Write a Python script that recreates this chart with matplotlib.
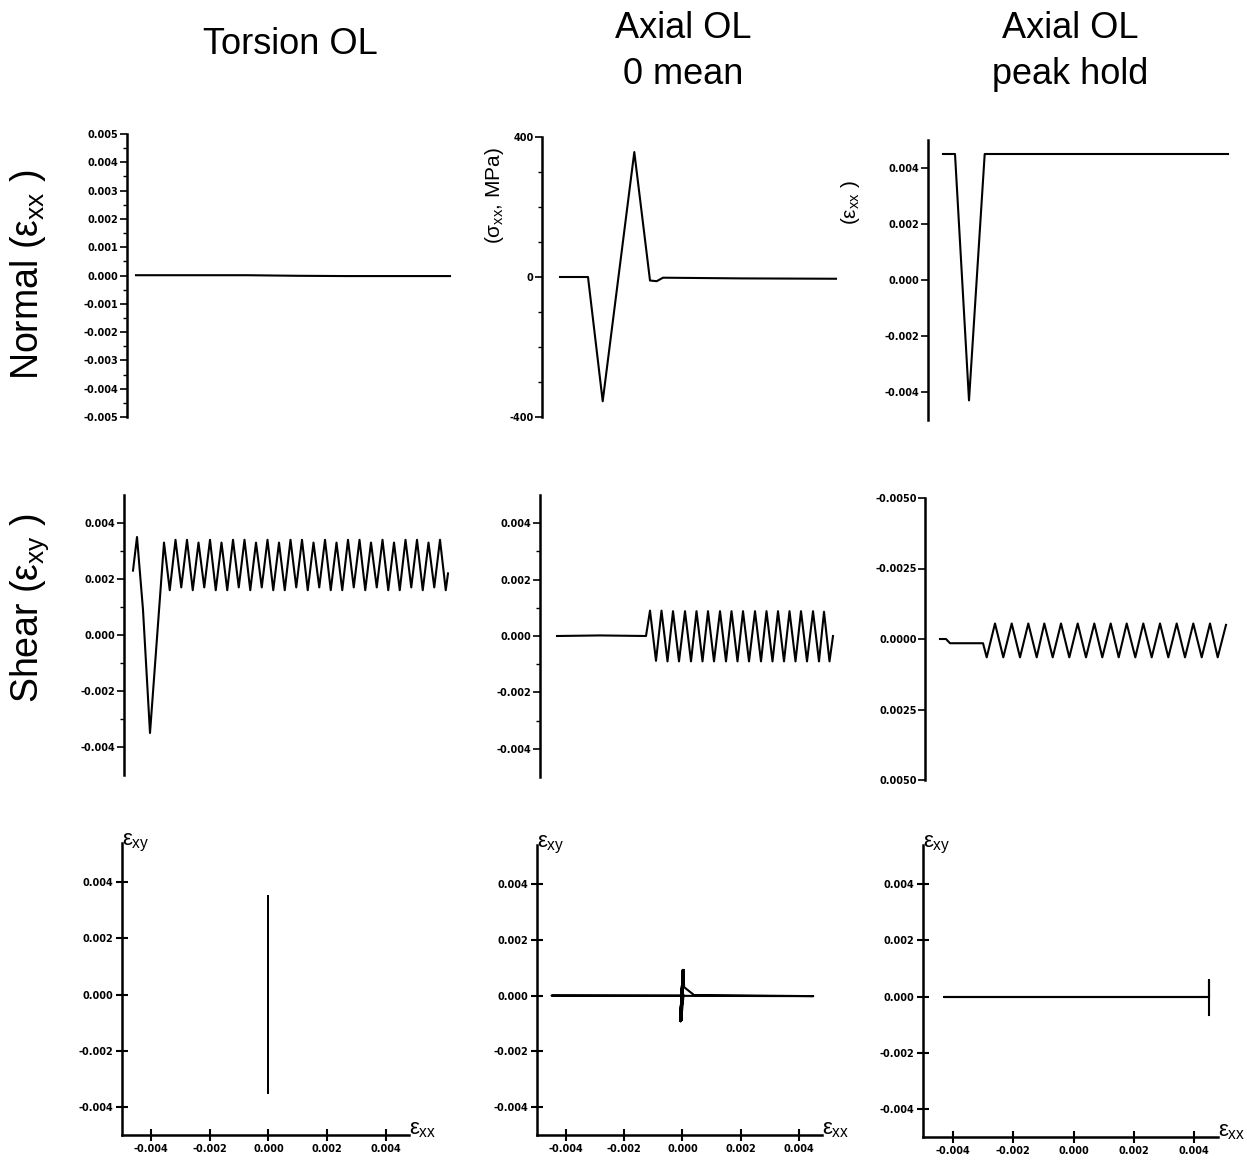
import matplotlib
matplotlib.use('Agg')  # headless

import numpy as np
import matplotlib.pyplot as plt
from matplotlib.ticker import FixedLocator

plt.rcParams['font.family'] = ['Liberation Sans', 'DejaVu Sans']
plt.rcParams['mathtext.fontset'] = 'custom'
plt.rcParams['mathtext.rm'] = 'Liberation Sans'
plt.rcParams['mathtext.it'] = 'Liberation Sans'

# ==============================
# DATA
# ==============================

# Torsion OL - normal strain, essentially zero
tor_t = [9, 60, 120, 170, 220, 270, 323]
tor_exx = [0.00001, 0.00001, 0.00001, -0.00001, -0.00002, -0.00002, -0.00002]

# Torsion OL - shear strain: overload then cycling
tor_start_t = [9, 13, 19, 26]
tor_start_g = [0.0023, 0.0035, 0.0009, -0.0035]
tor_peak_t = [40, 51.5, 63, 74.5, 86, 97.5, 109, 120.5, 132, 143.5, 155, 166.5, 178,
              189.5, 201, 212.5, 224, 235.5, 247, 258.5, 270, 281.5, 293, 304.5, 316]
tor_peak_g = [0.0033, 0.0034, 0.0034, 0.0033, 0.0034, 0.0033, 0.0034, 0.0034, 0.0033,
              0.0034, 0.0033, 0.0034, 0.0034, 0.0033, 0.0034, 0.0033, 0.0034, 0.0034,
              0.0033, 0.0034, 0.0033, 0.0034, 0.0034, 0.0033, 0.0034]
tor_valley_t = [45.75, 57.25, 68.75, 80.25, 91.75, 103.25, 114.75, 126.25, 137.75, 149.25,
                160.75, 172.25, 183.75, 195.25, 206.75, 218.25, 229.75, 241.25, 252.75,
                264.25, 275.75, 287.25, 298.75, 310.25, 321.75]
tor_valley_g = [0.0016, 0.0017, 0.0016, 0.0017, 0.0016, 0.0016, 0.0017, 0.0016, 0.0017,
                0.0016, 0.0016, 0.0017, 0.0016, 0.0017, 0.0016, 0.0016, 0.0017, 0.0016,
                0.0017, 0.0016, 0.0016, 0.0017, 0.0016, 0.0017, 0.0016]
tor_end_t = [324]
tor_end_g = [0.0022]

# Axial OL, 0 mean - normal stress (MPa)
ax0_t = [18, 46, 60.7, 92.3, 108, 114.7, 121, 200, 294]
ax0_sxx = [0, 0, -355, 357, -10, -12, -2, -4, -5]

# Axial OL, 0 mean - shear strain
ax0_flat_t = [17, 60, 106]
ax0_flat_g = [0.0, 0.00002, 0.0]
ax0_peak_t = [110, 121.5, 133, 145, 156.5, 168, 180, 191.5, 203, 215, 226.5, 238, 249.5,
              261, 273, 284]
ax0_peak_g = [0.0009, 0.0009, 0.00088, 0.00088, 0.00088, 0.00088, 0.00088, 0.00088,
              0.00088, 0.00088, 0.00088, 0.00088, 0.00088, 0.00088, 0.00088, 0.00086]
ax0_valley_t = [116, 127.5, 139, 151, 162.5, 174, 186, 197.5, 209, 221, 232.5, 244, 255.5,
                267, 279, 289.5]
ax0_valley_g = [-0.00088, -0.0009, -0.0009, -0.0009, -0.0009, -0.0009, -0.0009, -0.0009,
                -0.0009, -0.0009, -0.0009, -0.0009, -0.0009, -0.0009, -0.0009, -0.0009]
ax0_end_t = [293]
ax0_end_g = [0.0]

# Axial OL, peak hold - normal strain
ph_t = [15, 27, 41, 56.7, 300]
ph_exx = [0.0045, 0.0045, -0.0043, 0.0045, 0.0045]

# Axial OL, peak hold - shear strain (plotted on an inverted axis)
ph_flat_t = [15, 21, 25, 58]
ph_flat_g = [0.0, 0.0, 0.00015, 0.00015]
ph_valley_t = [61.7, 78.3, 95, 111.7, 127.7, 144.3, 161, 177.3, 193.7, 210.3, 226.7,
               243.3, 260, 276.7, 292.7]
ph_valley_g = [0.00065, 0.00065, 0.00065, 0.00065, 0.00065, 0.00065, 0.00065, 0.00065,
               0.00065, 0.00065, 0.00065, 0.00065, 0.00065, 0.00065, 0.00065]
ph_peak_t = [70, 86.7, 103.3, 119.3, 136, 152.7, 169.3, 185.7, 201.7, 218.3, 235, 251.7,
             268.3, 285, 301]
ph_peak_g = [-0.00055, -0.00055, -0.00055, -0.00055, -0.00055, -0.00055, -0.00055,
             -0.00055, -0.00055, -0.00055, -0.00055, -0.00055, -0.00055, -0.00055, -0.0005]

# Bottom row: strain paths (exx vs exy)
ax0_path_exx = [0.0, -0.0045, 0.0045, 0.0004, 0.00006, 0.00003]
ax0_path_exy = [0.0, 0.0, -0.00002, 0.00002, 0.0003, 0.0009]
ax0_cyc_exx = [0.00003, -0.00006, 0.00003, -0.00006, 0.00003, -0.00006, 0.00002]
ax0_cyc_exy = [0.0009, -0.0009, 0.0009, -0.0009, 0.0009, -0.0009, 0.0]

ph_path_exx = [0.0045, -0.0043, 0.0045, 0.0045, 0.0045]
ph_path_exy = [0.0, 0.0, 0.0, 0.0006, -0.00065]

# ==============================
# HELPERS
# ==============================

W, H = 1247, 1165


def box(x0, y0, x1, y1):
    # pixel box (top-left origin) -> figure fraction rect
    return [x0 / W, 1 - y1 / H, (x1 - x0) / W, (y1 - y0) / H]


def interleave(a_t, a_v, b_t, b_v):
    t, v = [], []
    for i in range(len(a_t)):
        t += [a_t[i], b_t[i]]
        v += [a_v[i], b_v[i]]
    return t, v


def tick_labels(ax, axis, labels):
    fn = ax.set_yticklabels if axis == 'y' else ax.set_xticklabels
    fn(labels, fontsize=7, fontweight='bold', family='DejaVu Sans')


def style_trace(ax, ylim, major, labels, minor=None):
    for s in ['top', 'right', 'bottom']:
        ax.spines[s].set_visible(False)
    ax.spines['left'].set_linewidth(1.8)
    ax.set_ylim(*ylim)
    ax.set_xticks([])
    ax.set_yticks(major)
    tick_labels(ax, 'y', labels)
    if minor is not None:
        ax.yaxis.set_minor_locator(FixedLocator(minor))
    ax.tick_params(axis='y', which='major', direction='out', length=5, width=1.2, pad=1)
    ax.tick_params(axis='y', which='minor', direction='out', length=3, width=1.0)
    ax.patch.set_alpha(0)


def style_xy(ax):
    for s in ['top', 'right']:
        ax.spines[s].set_visible(False)
    ax.spines['left'].set_linewidth(1.8)
    ax.spines['bottom'].set_linewidth(1.8)
    ax.set_xlim(-0.005, 0.0048)
    ax.set_ylim(-0.005, 0.0054)
    ticks = [-0.004, -0.002, 0.0, 0.002, 0.004]
    labels = ['-0.004', '-0.002', '0.000', '0.002', '0.004']
    ax.set_xticks(ticks)
    ax.set_yticks(ticks)
    tick_labels(ax, 'x', labels)
    tick_labels(ax, 'y', labels)
    ax.tick_params(direction='inout', length=9, width=1.5, pad=2)
    ax.text(0.0, 1.0, r'$\varepsilon_{\mathrm{xy}}$', transform=ax.transAxes,
            ha='left', va='center', fontsize=16)
    ax.text(1.0, 0.02, r'$\varepsilon_{\mathrm{xx}}$', transform=ax.transAxes,
            ha='left', va='center', fontsize=16)
    ax.patch.set_alpha(0)


LW = 1.5
strain5 = [0.005, 0.004, 0.003, 0.002, 0.001, 0.0, -0.001, -0.002, -0.003, -0.004, -0.005]
strain5_lab = ['0.005', '0.004', '0.003', '0.002', '0.001', '0.000',
               '-0.001', '-0.002', '-0.003', '-0.004', '-0.005']
strain4 = [0.004, 0.002, 0.0, -0.002, -0.004]
strain4_lab = ['0.004', '0.002', '0.000', '-0.002', '-0.004']

# ==============================
# FIGURE
# ==============================

fig = plt.figure(figsize=(W / 100, H / 100), dpi=100)

# column titles
fig.text(290 / W, 1 - 45 / H, 'Torsion OL', ha='center', va='center', fontsize=26)
fig.text(683 / W, 1 - 28 / H, 'Axial OL', ha='center', va='center', fontsize=26)
fig.text(683 / W, 1 - 75 / H, '0 mean', ha='center', va='center', fontsize=26)
fig.text(1070 / W, 1 - 28 / H, 'Axial OL', ha='center', va='center', fontsize=26)
fig.text(1070 / W, 1 - 75 / H, 'peak hold', ha='center', va='center', fontsize=26)

# row labels
fig.text(28 / W, 1 - 275 / H, r'Normal ($\varepsilon_{\mathrm{xx}}$ )', rotation=90,
         ha='center', va='center', fontsize=27)
fig.text(30 / W, 1 - 608 / H, r'Shear ($\varepsilon_{\mathrm{xy}}$ )', rotation=90,
         ha='center', va='center', fontsize=27)

# --- row 1 ---
a1 = fig.add_axes(box(127, 134, 455, 417))
a1.plot(tor_t, tor_exx, color='black', lw=LW)
a1.set_xlim(0, 328)
style_trace(a1, (-0.005, 0.005), strain5, strain5_lab,
            minor=[0.0045, 0.0035, 0.0025, 0.0015, 0.0005, -0.0005, -0.0015,
                   -0.0025, -0.0035, -0.0045])

a2 = fig.add_axes(box(542, 137, 840, 417))
a2.plot(ax0_t, ax0_sxx, color='black', lw=LW)
a2.set_xlim(0, 298)
style_trace(a2, (-400, 400), [400, 0, -400], ['400', '0', '-400'],
            minor=[300, 200, 100, -100, -200, -300])
fig.text(495 / W, 1 - 195 / H, r'($\sigma_{\mathrm{xx}}$, MPa)', rotation=90,
         ha='center', va='center', fontsize=15)

a3 = fig.add_axes(box(928, 140, 1232, 420))
a3.plot(ph_t, ph_exx, color='black', lw=LW)
a3.set_xlim(0, 304)
style_trace(a3, (-0.005, 0.005), strain4, strain4_lab)
fig.text(851 / W, 1 - 203 / H, r'($\varepsilon_{\mathrm{xx}}$ )', rotation=90,
         ha='center', va='center', fontsize=15)

# --- row 2 ---
a4 = fig.add_axes(box(124, 495, 455, 775))
pk_t, pk_g = interleave(tor_peak_t, tor_peak_g, tor_valley_t, tor_valley_g)
a4.plot(tor_start_t + pk_t + tor_end_t, tor_start_g + pk_g + tor_end_g,
        color='black', lw=LW)
a4.set_xlim(0, 331)
style_trace(a4, (-0.005, 0.005), strain4, strain4_lab,
            minor=[0.003, 0.001, -0.001, -0.003])

a5 = fig.add_axes(box(540, 495, 840, 777))
c_t, c_g = interleave(ax0_peak_t, ax0_peak_g, ax0_valley_t, ax0_valley_g)
a5.plot(ax0_flat_t + c_t + ax0_end_t, ax0_flat_g + c_g + ax0_end_g,
        color='black', lw=LW)
a5.set_xlim(0, 300)
style_trace(a5, (-0.005, 0.005), strain4, strain4_lab,
            minor=[0.003, 0.001, -0.001, -0.003])

a6 = fig.add_axes(box(925, 498, 1232, 780))
h_t, h_g = interleave(ph_valley_t, ph_valley_g, ph_peak_t, ph_peak_g)
a6.plot(ph_flat_t + h_t, ph_flat_g + h_g, color='black', lw=LW)
a6.set_xlim(0, 307)
style_trace(a6, (0.005, -0.005), [-0.005, -0.0025, 0.0, 0.0025, 0.005],
            ['-0.0050', '-0.0025', '0.0000', '0.0025', '0.0050'])

# --- row 3: strain paths ---
a7 = fig.add_axes(box(122, 843, 409, 1135))
tor_path_g = tor_start_g + pk_g + tor_end_g
a7.plot(np.zeros(len(tor_path_g)), tor_path_g, color='black', lw=1.2, antialiased=False)
style_xy(a7)

a8 = fig.add_axes(box(537, 845, 822, 1135))
a8.plot(ax0_path_exx, ax0_path_exy, color='black', lw=LW)
a8.plot(ax0_cyc_exx, ax0_cyc_exy, color='black', lw=2.2)
style_xy(a8)

a9 = fig.add_axes(box(923, 845, 1218, 1137))
a9.plot(ph_path_exx, ph_path_exy, color='black', lw=LW)
style_xy(a9)

plt.savefig('out.png', dpi=100)
print('Done.')
